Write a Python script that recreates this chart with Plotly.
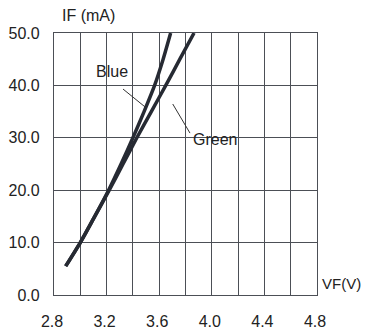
import plotly.graph_objects as go

# Data
current_ma = [5.5, 10, 15, 20, 25, 30, 35, 40, 45, 50]
vf_blue = [2.889, 3.0, 3.11, 3.215, 3.31, 3.40, 3.485, 3.565, 3.63, 3.687]
vf_green = [2.889, 3.0, 3.11, 3.22, 3.325, 3.43, 3.54, 3.65, 3.757, 3.865]

x_grid_vals = [2.8, 3.0, 3.2, 3.4, 3.6, 3.8, 4.0, 4.2, 4.4, 4.6, 4.8]
x_tick_text = ["2.8", "", "3.2", "", "3.6", "", "4.0", "", "4.4", "", "4.8"]
y_tick_vals = [0, 10, 20, 30, 40, 50]
y_tick_text = ["0.0", "10.0", "20.0", "30.0", "40.0", "50.0"]

line_color = "#262a33"
grid_color = "#4c4f56"
font = dict(family="Liberation Sans, Arial, sans-serif", size=16, color="#222222")

fig = go.Figure()
for name, vf in [("Blue", vf_blue), ("Green", vf_green)]:
    fig.add_trace(go.Scatter(
        x=vf, y=current_ma, mode="lines", name=name,
        line=dict(color=line_color, width=3.5, shape="spline", smoothing=0.6),
        showlegend=False, hoverinfo="skip",
    ))

# page body has an 8px margin, so the figure is shifted by 8px
fig.update_layout(
    width=364, height=325,
    margin=dict(l=46, r=55, t=25, b=38, autoexpand=False),
    paper_bgcolor="white", plot_bgcolor="white",
    font=font,
    xaxis=dict(
        range=[2.8, 4.8], tickvals=x_grid_vals, ticktext=x_tick_text,
        showgrid=True, gridcolor=grid_color, gridwidth=1.3,
        showline=True, linecolor=grid_color, linewidth=1.3, mirror=True,
        zeroline=False, ticks="", ticklabelstandoff=12, ticklabelshift=-2,
        automargin=False, fixedrange=True,
    ),
    yaxis=dict(
        range=[0, 50], tickvals=y_tick_vals, ticktext=y_tick_text,
        showgrid=True, gridcolor=grid_color, gridwidth=1.3,
        showline=True, linecolor=grid_color, linewidth=1.3, mirror=True,
        zeroline=False, ticks="", ticklabelstandoff=10,
        automargin=False, fixedrange=True,
    ),
)

# Axis titles
fig.add_annotation(text="IF (mA)", xref="paper", yref="paper", x=0.133, y=1.068,
                   xanchor="center", yanchor="middle", showarrow=False, font=font)
fig.add_annotation(text="VF(V)", xref="paper", yref="paper", x=1.175, y=0.042,
                   xanchor="right", yanchor="middle", showarrow=False,
                   font=dict(family=font["family"], size=15, color=font["color"]))

# Curve labels and leader lines
fig.add_annotation(text="Blue", x=3.241, y=42.6, showarrow=False, font=font)
fig.add_annotation(text="Green", x=4.024, y=29.6, showarrow=False, font=font)
fig.add_shape(type="line", x0=3.325, y0=39.3, x1=3.492, y1=35.9,
              line=dict(color="#333333", width=1))
fig.add_shape(type="line", x0=3.703, y0=36.45, x1=3.834, y1=30.9,
              line=dict(color="#333333", width=1))

fig.write_html("out.html")
